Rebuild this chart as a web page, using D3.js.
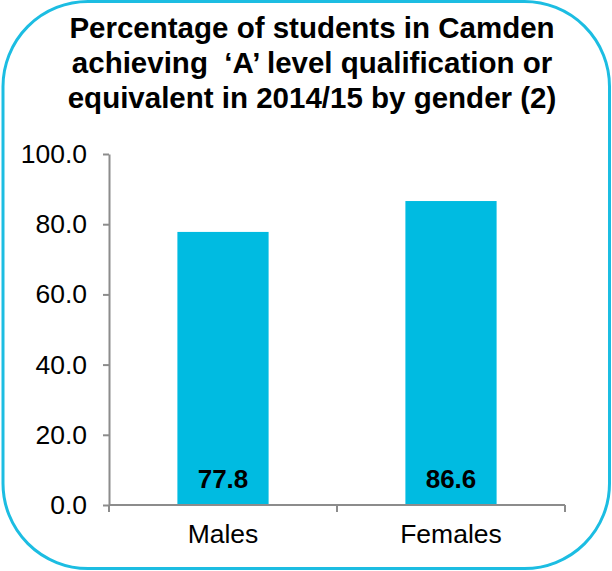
<!DOCTYPE html>
<html>
<head>
<meta charset="utf-8">
<script src="https://cdn.jsdelivr.net/npm/d3@7"></script>
<style>
  body { margin: 0; background: #fff; }
  text { font-family: "Liberation Sans", Arial, sans-serif; }
</style>
</head>
<body>
<svg id="chart"></svg>
<script>
// chart data
const categories = ["Males", "Females"];
const values = [77.8, 86.6];
const yTicks = [0, 20, 40, 60, 80, 100];
const titleLines = [
  "Percentage of students in Camden",
  "achieving  \u2018A\u2019 level qualification or",
  "equivalent in 2014/15 by gender (2)"
];

const width = 612, height = 571;
const margin = { top: 154, right: 47, bottom: 66, left: 109 };
const barColor = "#00BBE1";
const axisColor = "#8c8c8c";

const svg = d3.select("#chart").attr("width", width).attr("height", height);

// rounded border
svg.append("rect")
  .attr("x", 3).attr("y", 1.5)
  .attr("width", width - 5.5).attr("height", height - 4)
  .attr("rx", 85).attr("ry", 85)
  .attr("fill", "none")
  .attr("stroke", "#1cbde2")
  .attr("stroke-width", 3);

// title
svg.append("text")
  .attr("text-anchor", "middle")
  .attr("font-weight", "bold")
  .attr("font-size", 29.5)
  .attr("fill", "#000")
  .style("white-space", "pre")
  .selectAll("tspan")
  .data(titleLines)
  .enter().append("tspan")
  .attr("x", 312)
  .attr("y", (d, i) => 38 + i * 35)
  .text(d => d);

const x = d3.scaleBand()
  .domain(categories)
  .range([margin.left, width - margin.right])
  .paddingInner(0.6)
  .paddingOuter(0.3);

const y = d3.scaleLinear()
  .domain([0, 100])
  .range([height - margin.bottom, margin.top]);

// bars
svg.selectAll(".bar")
  .data(values)
  .enter().append("rect")
  .attr("class", "bar")
  .attr("x", (d, i) => x(categories[i]))
  .attr("y", d => y(d))
  .attr("width", x.bandwidth())
  .attr("height", d => y(0) - y(d))
  .attr("fill", barColor);

// value labels inside bars
svg.selectAll(".val")
  .data(values)
  .enter().append("text")
  .attr("class", "val")
  .attr("x", (d, i) => x(categories[i]) + x.bandwidth() / 2)
  .attr("y", y(0) - 17)
  .attr("text-anchor", "middle")
  .attr("font-weight", "bold")
  .attr("font-size", 26)
  .text(d => d.toFixed(1));

// y axis
const yAxis = svg.append("g")
  .attr("transform", `translate(${margin.left},0)`)
  .call(d3.axisLeft(y).tickValues(yTicks).tickFormat(d3.format(".1f")).tickSize(6).tickSizeOuter(0).tickPadding(16));
yAxis.selectAll("text").attr("font-size", 26.5).attr("fill", "#000").attr("font-family", "Liberation Sans, Arial, sans-serif");

// x axis with ticks at band boundaries
const xAxis = svg.append("g")
  .attr("transform", `translate(0,${y(0)})`);
xAxis.append("line")
  .attr("x1", margin.left).attr("x2", width - margin.right)
  .attr("y1", 0).attr("y2", 0);
const step = (width - margin.right - margin.left) / categories.length;
xAxis.selectAll(".xtick")
  .data(d3.range(categories.length + 1))
  .enter().append("line")
  .attr("class", "xtick")
  .attr("x1", i => margin.left + i * step)
  .attr("x2", i => margin.left + i * step)
  .attr("y1", 0).attr("y2", 7);
xAxis.selectAll(".xlab")
  .data(categories)
  .enter().append("text")
  .attr("class", "xlab")
  .attr("x", d => x(d) + x.bandwidth() / 2)
  .attr("y", 38)
  .attr("text-anchor", "middle")
  .attr("font-size", 26.5)
  .text(d => d);

svg.selectAll(".domain, .tick line, .xtick, g line")
  .attr("stroke", axisColor)
  .attr("stroke-width", 2);
</script>
</body>
</html>
